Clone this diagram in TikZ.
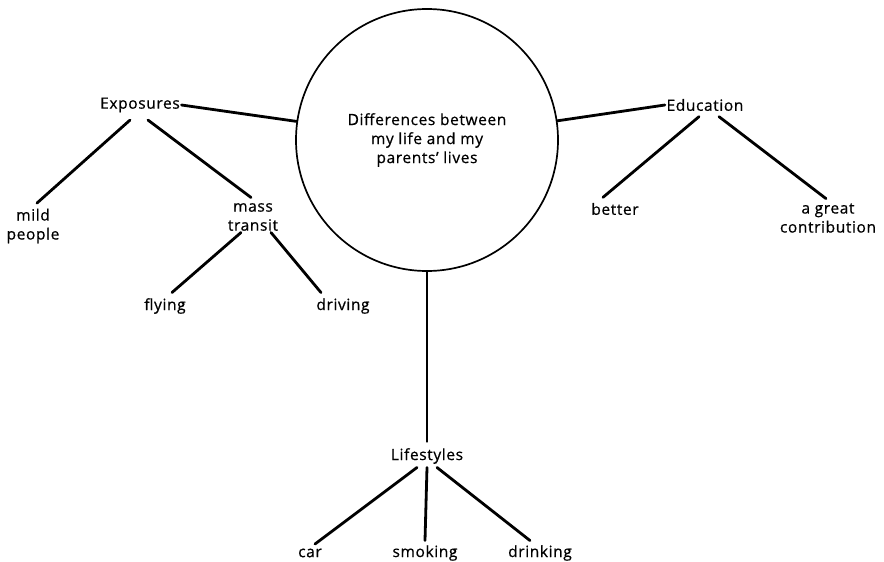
\documentclass[tikz,border=0pt]{standalone}
\usepackage{fontspec}
\setmainfont[LetterSpace=4,FakeBold=0.6]{Open Sans}
\begin{document}
\begin{tikzpicture}[x=1pt,y=-1pt,
  lbl/.style={font=\fontsize{15.5}{19}\selectfont, inner sep=1.5pt, align=center},
  conn/.style={line width=2.8pt, line cap=round},
]
\useasboundingbox (0,0) rectangle (884,562);
\node[circle, draw, line width=1.7pt, minimum size=262pt, inner sep=0pt,
      font=\fontsize{15.5}{19}\selectfont, align=center] (c) at (427,140)
      {Differences between\\my life and my\\parents' lives};
\node[lbl] (exp) at (140,105) {Exposures};
\node[lbl] (edu) at (705,105) {Education};
\node[lbl] (mild) at (33,226) {mild\\people};
\node[lbl] (mass) at (253,217) {mass\\transit};
\node[lbl] (fly) at (165,306) {flying};
\node[lbl] (drv) at (343,306) {driving};
\node[lbl] (bet) at (615,209) {better};
\node[lbl] (grt) at (828,218) {a great\\contribution};
\node[lbl] (life) at (427,456) {Lifestyles};
\node[lbl] (car) at (310,553) {car};
\node[lbl] (smk) at (425,553) {smoking};
\node[lbl] (drk) at (540,553) {drinking};

\draw[conn] (exp.east) -- (c);
\draw[conn] (edu.west) -- (c);
\draw[conn] (c.south) -- ([yshift=5pt]life.north);
\draw[conn] ([shift={(-10,6)}]exp.south) -- ([shift={(4,-4)}]mild.north);
\draw[conn] ([shift={(8,6)}]exp.south) -- ([shift={(-2,-4)}]mass.north);
\draw[conn] ([shift={(-12,0)}]mass.south) -- ([shift={(7,-4)}]fly.north);
\draw[conn] ([shift={(18,0)}]mass.south) -- ([shift={(-22,-4)}]drv.north);
\draw[conn] ([shift={(-6,4)}]edu.south) -- ([shift={(-12,-4)}]bet.north);
\draw[conn] ([shift={(14,4)}]edu.south) -- ([shift={(-2,-3)}]grt.north);
\draw[conn] ([shift={(-10,2)}]life.south) -- ([shift={(5,-3)}]car.north);
\draw[conn] ([shift={(0,2)}]life.south) -- ([shift={(0,-3)}]smk.north);
\draw[conn] ([shift={(10,2)}]life.south) -- ([shift={(-10,-3)}]drk.north);
\end{tikzpicture}
\end{document}
